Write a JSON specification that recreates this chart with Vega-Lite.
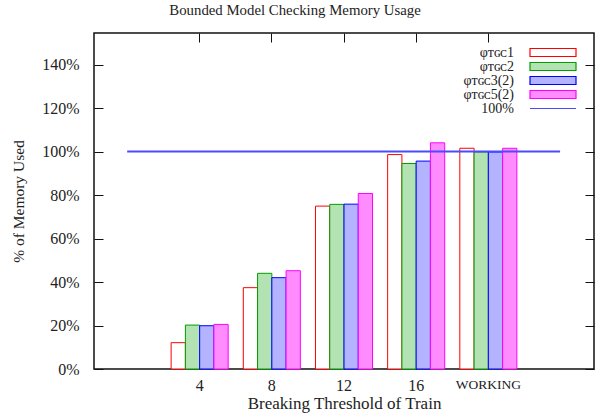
{
  "$schema": "https://vega.github.io/schema/vega-lite/v6.json",
  "width": 500,
  "height": 336,
  "autosize": {"type": "none"},
  "padding": {"left": 94, "top": 33, "right": 12, "bottom": 50},
  "background": "white",
  "title": {"text": "Bounded Model Checking Memory Usage", "font": "Liberation Serif", "fontSize": 14.8, "fontWeight": "normal", "color": "#222", "anchor": "middle", "frame": "bounds", "dx": -8, "offset": 15},
  "config": {
    "view": {"stroke": "#111", "strokeWidth": 1.5},
    "font": "Liberation Serif",
    "axis": {"labelFont": "Liberation Serif", "titleFont": "Liberation Serif", "labelFontSize": 16, "titleFontSize": 16, "labelColor": "#222", "titleColor": "#222", "titleFontWeight": "normal", "grid": false, "domain": false, "tickColor": "#111", "tickSize": -9, "tickWidth": 1},
    "legend": {"labelFont": "Liberation Serif", "labelFontSize": 14, "labelColor": "#222", "symbolStrokeWidth": 1.2, "symbolSize": 64, "labelAlign": "right", "labelOffset": -27, "rowPadding": 0, "padding": 0}
  },
  "datasets": {
    "bars": [
      {"cat": "4", "series": "φᴛɢᴄ1", "value": 12.1},
      {"cat": "4", "series": "φᴛɢᴄ2", "value": 20.2},
      {"cat": "4", "series": "φᴛɢᴄ3(2)", "value": 19.9},
      {"cat": "4", "series": "φᴛɢᴄ5(2)", "value": 20.5},
      {"cat": "8", "series": "φᴛɢᴄ1", "value": 37.4},
      {"cat": "8", "series": "φᴛɢᴄ2", "value": 44.0},
      {"cat": "8", "series": "φᴛɢᴄ3(2)", "value": 42.0},
      {"cat": "8", "series": "φᴛɢᴄ5(2)", "value": 45.2},
      {"cat": "12", "series": "φᴛɢᴄ1", "value": 74.9},
      {"cat": "12", "series": "φᴛɢᴄ2", "value": 75.7},
      {"cat": "12", "series": "φᴛɢᴄ3(2)", "value": 75.8},
      {"cat": "12", "series": "φᴛɢᴄ5(2)", "value": 80.7},
      {"cat": "16", "series": "φᴛɢᴄ1", "value": 98.6},
      {"cat": "16", "series": "φᴛɢᴄ2", "value": 94.5},
      {"cat": "16", "series": "φᴛɢᴄ3(2)", "value": 95.6},
      {"cat": "16", "series": "φᴛɢᴄ5(2)", "value": 104.0},
      {"cat": "WORKING", "series": "φᴛɢᴄ1", "value": 101.5},
      {"cat": "WORKING", "series": "φᴛɢᴄ2", "value": 99.8},
      {"cat": "WORKING", "series": "φᴛɢᴄ3(2)", "value": 99.8},
      {"cat": "WORKING", "series": "φᴛɢᴄ5(2)", "value": 101.5}
    ],
    "line": [
      {"pos": 0, "value": 100, "series": "100%"},
      {"pos": 6, "value": 100, "series": "100%"}
    ]
  },
  "layer": [
    {
      "data": {"name": "bars"},
      "mark": {"type": "bar", "strokeWidth": 1},
      "encoding": {
        "x": {"field": "cat", "type": "nominal", "sort": null,
              "scale": {"type": "band", "domain": ["4", "8", "12", "16", "WORKING"], "paddingInner": 0, "paddingOuter": 0.964},
              "axis": {"orient": "bottom", "title": "Breaking Threshold of Train", "titleFontSize": 17, "labelAngle": 0, "labelPadding": 17, "titlePadding": 2,
                       "labelFontSize": {"expr": "datum.value == 'WORKING' ? 13.5 : 16"}}},
        "xOffset": {"field": "series", "type": "nominal",
                    "scale": {"domain": ["φᴛɢᴄ1", "φᴛɢᴄ2", "φᴛɢᴄ3(2)", "φᴛɢᴄ5(2)"], "paddingInner": 0, "paddingOuter": 0.53}},
        "y": {"field": "value", "type": "quantitative",
              "scale": {"domain": [0, 154.5], "nice": false, "zero": true},
              "axis": {"orient": "left", "title": "% of Memory Used", "titleFontSize": 15.5, "values": [0, 20, 40, 60, 80, 100, 120, 140], "labelExpr": "datum.value + '%'", "labelPadding": 24, "titlePadding": 15}},
        "fill": {"field": "series", "type": "nominal",
                 "scale": {"domain": ["φᴛɢᴄ1", "φᴛɢᴄ2", "φᴛɢᴄ3(2)", "φᴛɢᴄ5(2)", "100%"], "range": ["#ffffff", "#b3e2b3", "#b3b3ff", "#ff8cff", "transparent"]},
                 "legend": {"title": null, "orient": "none", "legendX": 433, "legendY": 12.5,
                            "encode": {"symbols": {"update": {"shape": {"signal": "datum.value === '100%' ? 'M-1,0H10.5' : 'M-1,-1H10.5V1H-1Z'"}}}}}},
        "stroke": {"field": "series", "type": "nominal",
                   "scale": {"domain": ["φᴛɢᴄ1", "φᴛɢᴄ2", "φᴛɢᴄ3(2)", "φᴛɢᴄ5(2)", "100%"], "range": ["#ff0000", "#009e00", "#0000ff", "#ff00ff", "#4a4aff"]},
                   "legend": {"title": null, "orient": "none", "legendX": 433, "legendY": 12.5,
                              "encode": {"symbols": {"update": {"shape": {"signal": "datum.value === '100%' ? 'M-1,0H10.5' : 'M-1,-1H10.5V1H-1Z'"}}}}}}
      }
    },
    {
      "data": {"name": "line"},
      "mark": {"type": "line", "strokeWidth": 1.8, "stroke": "#4a4aff"},
      "encoding": {
        "x": {"field": "pos", "type": "quantitative", "scale": {"domain": [-0.46, 6.47], "nice": false, "zero": false}, "axis": null},
        "y": {"field": "value", "type": "quantitative", "axis": null}
      }
    },
    {
      "data": {"name": "bars"},
      "mark": {"type": "point", "opacity": 0},
      "encoding": {
        "x": {"field": "cat", "type": "nominal", "sort": null,
              "scale": {"type": "band", "domain": ["4", "8", "12", "16", "WORKING"], "paddingInner": 0, "paddingOuter": 0.964},
              "axis": {"orient": "top", "labels": false, "title": null}},
        "y": {"field": "value", "type": "quantitative", "axis": {"orient": "right", "labels": false, "title": null, "values": [0, 20, 40, 60, 80, 100, 120, 140]}}
      }
    }
  ],
  "resolve": {"scale": {"x": "independent"}, "axis": {"x": "independent", "y": "independent"}}
}
